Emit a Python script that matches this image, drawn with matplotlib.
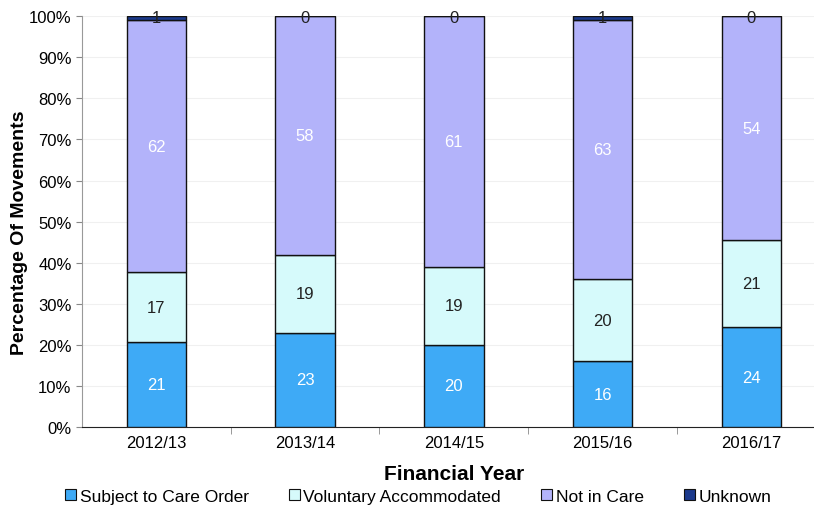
"""Stacked percentage bars of movements by financial year."""

import matplotlib.pyplot as plt
import numpy as np
from matplotlib.ticker import PercentFormatter, FixedLocator

plt.rcParams["font.family"] = ["Liberation Sans", "DejaVu Sans"]

years = ["2012/13", "2013/14", "2014/15", "2015/16", "2016/17"]
care_order = [21, 23, 20, 16, 24]
voluntary = [17, 19, 19, 20, 21]
not_in_care = [62, 58, 61, 63, 54]
unknown = [1, 0, 0, 1, 0]

series = [
    ("Subject to Care Order", care_order, "#3eaaf6", "white"),
    ("Voluntary Accommodated", voluntary, "#d6fafb", "#222222"),
    ("Not in Care", not_in_care, "#b3b3fa", "white"),
    ("Unknown", unknown, "#1c3a8c", "#222222"),
]


def main():
    fig = plt.figure(figsize=(8.14, 5.06), dpi=100)
    ax = fig.add_axes([0.1007, 0.154, 0.9137, 0.812])

    ind = np.arange(len(years))
    totals = np.sum([s[1] for s in series], axis=0)
    bottom = np.zeros(len(years))
    width = 0.40
    for name, vals, color, tcolor in series:
        pct = np.array(vals) / totals * 100
        ax.bar(ind, pct, width, bottom=bottom, color=color,
               edgecolor="#111111", linewidth=1.0, label=name, zorder=3)
        for i, v in enumerate(vals):
            if name == "Unknown":
                y = 99.8
            else:
                y = bottom[i] + pct[i] / 2
            ax.text(ind[i], y, f"{v}", ha="center", va="center",
                    color=tcolor, fontsize=12, zorder=4)
        bottom += pct

    ax.set_xlim(-0.5, len(years) - 0.5)
    ax.set_ylim(0, 100)
    ax.set_yticks(np.arange(0, 101, 10))
    ax.yaxis.set_major_formatter(PercentFormatter(decimals=0))
    ax.set_xticks(ind)
    ax.set_xticklabels(years)
    ax.xaxis.set_minor_locator(FixedLocator(np.arange(0.5, len(years) - 0.5, 1)))
    ax.tick_params(axis="x", which="major", length=0, labelsize=12, pad=6)
    ax.tick_params(axis="x", which="minor", length=5, color="#888888")
    ax.tick_params(axis="y", length=4, color="#888888", labelsize=12)
    ax.grid(axis="y", color="#f0f0f0", linewidth=0.8, zorder=0)

    for side in ["top", "right"]:
        ax.spines[side].set_visible(False)
    ax.spines["left"].set_color("#999999")
    ax.spines["bottom"].set_color("#222222")

    ax.set_ylabel("Percentage Of Movements", fontsize=14, fontweight="bold")
    ax.yaxis.set_label_coords(-0.073, 0.475)
    ax.set_xlabel("Financial Year", fontsize=15, fontweight="bold", labelpad=10)

    leg = ax.legend(loc="upper center", bbox_to_anchor=(0.452, -0.133), ncol=4,
                    frameon=False, fontsize=12.5, handlelength=0.65, handleheight=0.65,
                    handletextpad=0.2, columnspacing=2.3, borderaxespad=0)
    for h in leg.legend_handles:
        h.set_edgecolor("#111111")
        h.set_linewidth(0.8)

    fig.savefig("out.png", dpi=100)


if __name__ == "__main__":
    main()
